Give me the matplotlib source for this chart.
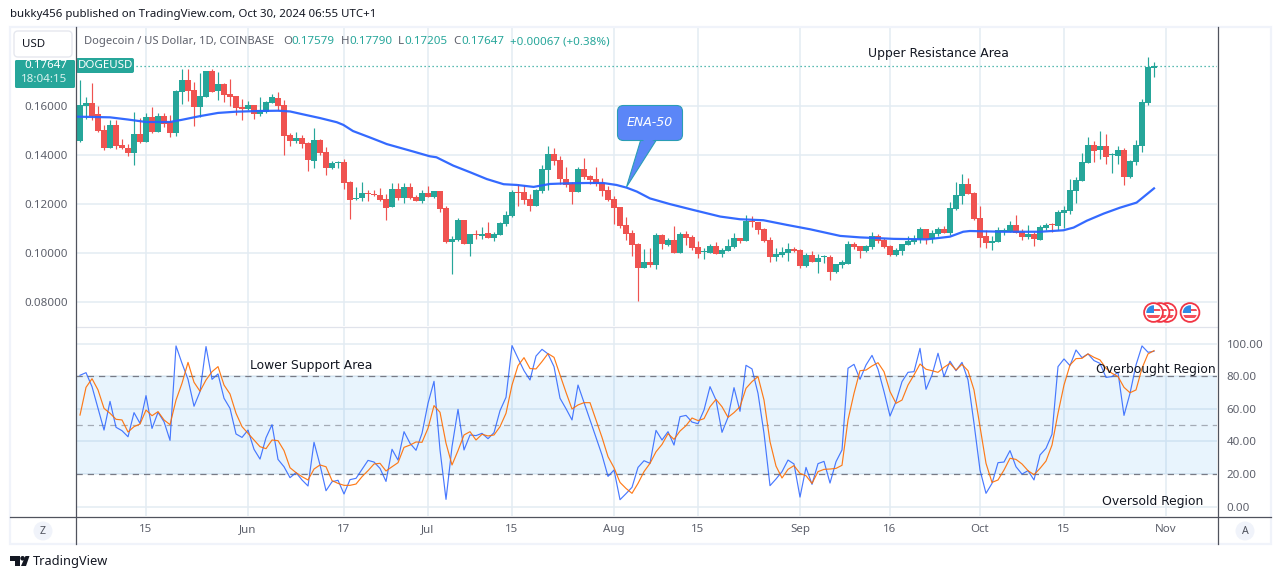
import numpy as np
import pandas as pd
import matplotlib
matplotlib.use('Agg')
import matplotlib.pyplot as plt
from matplotlib.patches import Circle, FancyBboxPatch, Polygon, Rectangle

# Candles, daily, in thousandths of a dollar
start_date = '2024-05-04'
opens = [145.8,160.1,161.4,156.9,150.3,143,152.4,144.2,143,141,
         148.7,145.4,155.6,149.5,156,153.6,149.1,165.9,170.7,166.7,
         159.7,163.8,174.4,166.3,169.1,165,164.2,159.7,158.9,160.5,
         156.9,157.7,161.4,163.4,160.5,148.3,145.9,147.1,145,137.7,
         146.3,141.4,134.8,136.9,137.3,129.1,122.2,122.6,124.6,124.2,
         123.8,122.2,118.9,126.3,122.6,127.1,123,121.4,124.6,123,
         125.4,118.5,104.6,105.4,113.6,103.8,107.5,107.1,108.3,106.3,
         107.5,112,115.2,125,125,122.2,119.3,125.4,134,140.5,
         138.1,130.3,128.3,125,134.4,131.6,130.3,128.7,125.9,122.2,
         118.9,111.6,108.3,103.8,94,96.5,95.2,107.5,103.4,105.4,
         100.1,107.9,106.7,102.6,100.5,100.1,103,99.7,101,102.6,
         106.3,105,113.2,112.8,109.9,105.4,98.5,99.3,100.1,101.8,
         101.4,94.8,99.3,96.5,98.4,98.5,92.4,95.2,95.6,103.8,
         103,101,102.6,107.1,105.4,103,99.3,101,103.4,104.6,
         105.9,109.9,105.9,107.9,109.9,108.3,118.1,123.4,128.3,124.6,
         114.4,107.1,104.4,104.6,108.7,108.7,111.6,108.8,106.7,107.9,
         105.4,110.3,111.8,111.2,116.5,117.3,125.4,129.5,136.9,144.2,
         142.2,143.8,140.1,139.7,142.2,131.2,137.3,143.8,161.4,175.79]
highs = [170.7,163.9,169.7,160.1,152.4,154.4,154.4,146.7,144.6,157.7,
         155.2,157.3,159.7,157.3,157.3,156.5,166.7,175.2,175.2,169.9,
         173.6,174.4,175.2,174,169.5,171.2,164.2,163,162.2,160.5,
         163.8,162.2,165,165.9,162.6,149.1,149.5,148.3,145.4,151.2,
         146.7,143.4,137.7,137.7,138.5,129.5,127.1,129.1,125.9,125.9,
         126.7,124.2,128.7,128.7,128.7,128.7,123.8,125.9,127.5,125.4,
         125.4,119.3,107.1,114.4,113.6,107.9,109.4,110.7,112.8,108.7,
         112.8,117.3,125.9,128.3,127.9,124.2,126.3,136.1,143.8,143,
         139.7,135.2,129.1,135.2,138.9,132,135.2,130.7,127.5,123.4,
         118.9,114.8,109.5,104.2,101.8,102.2,108.3,107.9,106.3,111.2,
         108.7,109.1,107.5,105,102.2,103.8,104.6,102.2,105.9,108.3,
         106.3,115.6,115.2,112.8,110.3,106.7,102.2,102.6,104.2,102.6,
         101.8,100.1,101,99.7,99.3,99.3,95.6,97.3,105,104.6,
         103,103.4,108.7,107.9,106.3,103.4,102.2,103.8,107.1,107.5,
         110.7,109.9,109.5,110.7,111.2,121,129.1,132.4,130.7,125,
         119.3,109.5,107.1,110.7,110.3,113.2,115.6,109.9,111.6,108.7,
         111.6,112.4,112.4,117.7,119.3,130.3,131.2,141,147.5,145.9,
         149.9,148.7,141,143.8,143,138.1,146.3,163,180.1,177.9]
lows = [145.5,154.7,154.4,149.5,142.2,143,142.6,142.6,139.7,136.1,
        145,145.4,149.1,149.5,151.6,147.5,147.9,161,162.2,152,
        155.6,163.8,165.9,162.6,161.8,160.1,156.5,154.4,158.5,154.8,
        156,157.3,161.4,158.5,140.1,143.8,145,143,133.6,134.8,
        140.1,132,134.4,134.8,126.3,114,121.8,121.4,121.4,123.4,
        121.4,113.6,118.9,121.8,120.5,122.2,121.4,120.5,123,122.6,
        116.9,104.2,91.6,105,103.8,98.9,105.9,105.9,106.3,105,
        107.5,111.2,114.8,119.3,120.1,117.3,119.3,124.6,125.9,136.1,
        128.3,127.1,120.1,125,130.3,128.3,127.5,123.4,121.4,112,
        110.3,105.4,98.9,80.5,94,94.4,93.6,101.8,103,100.1,
        100.1,103.4,101.4,98.1,97.7,100.1,99.7,98.5,101,102.2,
        104.2,105,110.7,107.9,104.6,96.5,96.9,98.5,96.9,100.5,
        94,94.4,96.5,92,96.1,89.1,92,94,95.6,101.8,
        98.1,100.5,101.8,104.2,102.2,98.9,98.9,99.3,103.4,103.8,
        104.2,103.8,104.2,107.1,108.3,107.5,117.7,120.1,124.2,113.6,
        102.6,102.2,101.4,104.6,107.5,108.7,108.3,105.4,105.9,103,
        105.4,109.5,108.7,109.5,110.3,116.1,120.5,129.5,136.9,137.3,
        138.5,136.5,132.8,136.5,127.9,130.7,136.1,141.4,160.5,172.05]
closes = [160.5,161.4,156.2,149.9,143,152.4,143.8,143,141,148.7,
          145.4,155.6,149.5,156,152.8,149.1,166.3,170.7,166.3,159.7,
          164.2,174.4,165.9,169.1,164.6,163.8,159.3,158.9,160.5,156.9,
          158.5,161.8,163.8,160.1,147.9,145.9,147.1,144.6,138.1,146.3,
          141,134.8,136.9,137.3,128.7,121.8,122.6,124.6,124.2,123.8,
          121.8,118.5,126.3,122.6,127.1,122.6,121.4,124.6,123,125.4,
          118.1,104.6,105.9,113.6,103.8,107.9,107.4,107.9,106.3,107.9,
          112.4,115.6,125,124.8,121.8,119.3,125.9,134.4,140.5,137.7,
          130.3,127.9,125,134.4,131.2,129.9,128.3,125.4,121.8,118.5,
          111.2,107.9,103.4,94,96.5,95.2,107.5,103.8,105.4,100.1,
          107.9,106.3,102.2,99.7,100.6,103,99.7,101.4,103,106.3,
          105,113.2,112.8,109.5,105,98.5,99.7,100.5,101.8,101,
          94.8,99.3,96.5,98.1,98.5,92.4,95.6,96.5,103.8,102.6,
          101,103,107.1,105,102.6,99.3,101.4,103.8,105,105.9,
          109.9,105.9,108.3,109.9,108.3,118.5,123.8,128.3,124.2,114,
          106.3,104.2,105,109.5,109.5,111.6,108.3,106.8,107.9,105.9,
          110.7,111.6,111.6,116.9,117.7,125.9,129.9,137.3,144.2,141.8,
          143.8,139.3,140.3,142.2,131.2,137.7,144.2,161.8,176.1,176.47]

# EMA-50, read at the bends of the line (day number, thousandths)
ema_days = [-1,5,8,11,15,17,20,23,26,30,33,35,37.2,40,42.8,43.9,45.5,48.3,50.5,51.1,55.6,58.3,59.4,62.2,65,67.8,70.6,72.8,75.6,
            78.3,81.7,84.4,87.2,89.4,91.1,92.8,95,98.3,102.2,106.7,110,113.9,117.8,121.7,126.7,130,
            135.6,141.1,143.3,145,147.2,148.3,153.9,160,163.9,165.6,167.8,170.6,173.3,176.1,177.2,179]
ema_vals = [155.8,155.5,154.6,153.6,153.6,154.5,156,157.3,157.8,158.1,158.2,157.9,156.7,155.2,153.5,152.4,149.9,147.3,145.2,144.6,141.5,139.6,139.2,135.8,133.1,130.3,128.2,127.9,127.1,
            128.3,128.6,128.7,128.7,127.9,126.8,125.2,122.4,120.1,117.7,115,113.9,113.5,111.6,109.8,107.1,106.5,
            105.9,105.7,106.3,106.8,108.8,109.1,108.8,108.8,109.4,110.5,113.3,116.2,118.6,120.7,122.9,126.5]

# Stochastic RSI, one value per day
stoch_k = [80.6,82.2,73.6,60.3,47,64.6,48.7,46.6,42.9,57.7,
           51.1,68.1,48,57.9,52.1,40.7,98.6,87.9,78.1,61.6,
           70.6,98.2,78.1,81.4,66.5,60.3,44.6,42.5,47,35.2,
           29.2,42.3,50.3,29,24.5,17.8,20.9,16.4,12.7,39.5,
           25.6,9.8,15.3,16.2,7.8,16.6,17.4,22.9,28.4,27.4,
           23.5,15.5,35.2,28.6,46,38.9,34.6,45,63.4,76.9,
           34.8,4.5,36.8,59.7,34.8,44,43.6,45,41.7,45.4,
           58.9,67.1,98.8,91,83.4,77.7,92.4,96.5,93.7,85.9,
           66.5,60.1,53.2,74.6,63.8,53.2,42.5,31.7,18.6,22.5,
           4.3,8,11.9,24.1,28.2,26.6,46.8,40.9,46,37.8,
           55.2,56,51.9,50.9,59.3,73.6,65.4,45.6,54.8,73,
           58.5,86.7,84.5,69.5,45,12.9,17,21.5,28.6,26.2,
           5.9,24.1,13.7,26.4,27.8,14.5,27.6,34.8,84.9,87.3,
           78.1,86.9,92.8,84.3,70.6,55.6,64.4,76.7,82.4,82.8,
           97.1,72,80.8,94.1,79.8,89.2,83.4,88.5,77.7,51.1,
           22.5,8.2,14.3,27,27.4,34.4,24.5,20,22.1,16.4,
           31.7,35.8,44.4,85.9,90.6,86.5,96.1,91.4,93.7,89.6,
           87.9,79.3,79.8,82.4,56,69.5,86.9,98.6,94.7,95.3]
stoch_d = [56.2,73.2,78.5,71.6,60.3,57.3,53.6,53.2,45.8,49.1,
           50.7,59.3,55.8,58.3,53.2,50.3,65.4,75.7,88.5,76.3,
           70.8,77.7,82.8,85.9,74.6,69.1,57.3,49.1,45,40.9,
           36.8,35.6,40.9,40.5,34.4,23.9,20.9,18.4,16.4,23.1,
           25.6,24.5,16,14.3,13.1,13.1,13.9,18.4,22.1,26.2,
           26.6,21.9,24.5,27,36.4,37.8,39.7,39.5,48.1,62,
           57.9,38.9,25.6,34.4,44,46,40.9,44.4,43.4,44,
           49.1,57.3,74.6,86.5,91.4,84.7,84.5,89,93.9,91.6,
           80.8,70.1,59.9,62.4,63.8,63.8,53.2,42.5,30.7,23.9,
           14.9,11.2,8.2,14.3,21.5,26.6,33.7,38.2,44.8,41.3,
           46.4,49.7,54.4,52.8,54,61.3,65.8,61.3,54.8,57.7,
           61.3,72.6,76.7,79.8,65.4,39.9,24.9,17.6,22.9,25.2,
           20.4,19,14.3,21.5,22.9,23.1,23.5,25.4,53.2,69.5,
           83.4,83.8,86.3,88.3,82.8,70.6,63.4,65.4,74.6,80.8,
           87.5,84.3,83.4,82.4,85.5,87.9,83.8,87.3,83.4,71.6,
           49.1,26.6,14.9,16.4,22.5,29.7,29,26.2,22.1,19.6,
           23.5,28,37.8,57.3,74.6,86.9,90.8,91,93.7,91.6,
           90,84.9,81.8,79.8,73.2,69.9,71.6,84.9,93.7,95.7]

# Axis ticks
price_ticks = [0.08, 0.10, 0.12, 0.14, 0.16]
stoch_ticks = [0, 20, 40, 60, 80, 100]
time_ticks = ['2024-05-15', '2024-06-01', '2024-06-17', '2024-07-01', '2024-07-15', '2024-08-01',
              '2024-08-15', '2024-09-01', '2024-09-16', '2024-10-01', '2024-10-15', '2024-11-01']
time_labels = ['15', 'Jun', '17', 'Jul', '15', 'Aug', '15', 'Sep', '16', 'Oct', '15', 'Nov']
last_price = 0.17647

UP = '#26a69a'
DOWN = '#ef5350'
GRID = '#e3ecf3'
DARK = '#50535e'
TEXT = '#131722'
LABEL = '#5d606b'
FONT = 'Noto Sans'
NOTE_FONT = 'DejaVu Sans'
W, H = 1281, 579

plt.rcParams['font.family'] = FONT


def px_rect(x0, y0, x1, y1):
    return [x0 / W, 1 - y1 / H, (x1 - x0) / W, (y1 - y0) / H]


fig = plt.figure(figsize=(W / 100, H / 100), dpi=100, facecolor='white')
ax = fig.add_axes(px_rect(76, 27, 1217, 326))
ax2 = fig.add_axes(px_rect(76, 327, 1217, 516))
deco = fig.add_axes([0, 0, 1, 1], zorder=10)
deco.set_xlim(0, W)
deco.set_ylim(H, 0)
deco.axis('off')
deco.patch.set_alpha(0)

df = pd.DataFrame({'open': opens, 'high': highs, 'low': lows, 'close': closes}) / 1000
df['day'] = np.arange(len(df))
tick_days = [(pd.Timestamp(d) - pd.Timestamp(start_date)).days for d in time_ticks]

# Price pane
for a in (ax, ax2):
    a.set_xlim(-0.67, 189.5)
    a.set_xticks(tick_days)
    a.grid(True, color=GRID, linewidth=1.1)
    a.set_axisbelow(True)
    for s in a.spines.values():
        s.set_visible(False)
    a.tick_params(length=0)

colors = np.where(df['close'] >= df['open'], UP, DOWN)
ax.vlines(df['day'], df['low'], df['high'], colors=colors, linewidth=0.85, zorder=3)
ax.bar(df['day'], (df['close'] - df['open']).abs().clip(lower=0.0003), bottom=df[['open', 'close']].min(axis=1),
       width=0.85, color=colors, linewidth=0, zorder=3)
ax.plot(ema_days, np.array(ema_vals) / 1000, color='#2962ff', linewidth=1.6, alpha=0.95, zorder=4)
ax.axhline(last_price, color=UP, linewidth=0.9, linestyle=(0, (1, 2.2)), zorder=2)
ax.set_ylim(0.07033, 0.19237)
ax.set_yticks(price_ticks)
ax.set_yticklabels(['%.5f' % p for p in price_ticks], color=LABEL, fontsize=8.3)
ax.tick_params(axis='y', pad=6)
ax.tick_params(axis='x', labelbottom=False)

# Stochastic pane
ax2.axhspan(20, 80, color='#2196f3', alpha=0.1, linewidth=0, zorder=1)
ax2.axhline(80, color='#787b86', linewidth=0.9, linestyle=(0, (5, 4)), zorder=2)
ax2.axhline(20, color='#787b86', linewidth=0.9, linestyle=(0, (5, 4)), zorder=2)
ax2.axhline(50, color='#787b86', alpha=0.6, linewidth=0.9, linestyle=(0, (5, 4)), zorder=2)
ax2.plot(df['day'], stoch_k, color='#2962ff', linewidth=0.85, alpha=0.85, zorder=3)
ax2.plot(df['day'], stoch_d, color='#ff6d00', linewidth=0.85, alpha=0.9, zorder=4)
ax2.set_ylim(-5.7, 110.2)
ax2.set_yticks(stoch_ticks)
ax2.set_yticklabels(['%.2f' % v for v in stoch_ticks], color=LABEL, fontsize=8.3)
ax2.yaxis.tick_right()
ax2.tick_params(axis='y', pad=7)
ax2.set_xticklabels(time_labels, color=LABEL, fontsize=8.3)
ax2.tick_params(axis='x', pad=6)

# Frame around the chart
deco.add_patch(Rectangle((10, 27), 1261, 517, fill=False, edgecolor='#f0f3fa', linewidth=1.6))
deco.plot([10, 1271], [516.5, 516.5], color=DARK, linewidth=0.9)
deco.plot([76, 1217], [326.5, 326.5], color='#e0e3eb', linewidth=0.9)
deco.plot([75.5, 75.5], [27, 544], color=DARK, linewidth=0.9)
deco.plot([1217.5, 1217.5], [27, 544], color=DARK, linewidth=0.9)

# Header
deco.text(10, 14.5, 'bukky456 published on TradingView.com, Oct 30, 2024 06:55 UTC+1', fontsize=8.25,
          color=TEXT, va='center')
deco.text(84, 41.5, 'Dogecoin / US Dollar, 1D, COINBASE', fontsize=8.05, color=LABEL, va='center')
for x, letter, value in [(283, 'O', '0.17579'), (341, 'H', '0.17790'), (398, 'L', '0.17205'), (453, 'C', '0.17647')]:
    deco.text(x, 41.5, letter, fontsize=8.3, color=LABEL, va='center')
    deco.text(x + (8.5 if letter != 'L' else 6.5), 41.5, value, fontsize=8.3, color=UP, va='center')
deco.text(510, 41.5, '+0.00067 (+0.38%)', fontsize=8.3, color=UP, va='center')

# USD button and last price tags
deco.add_patch(FancyBboxPatch((14, 31), 58, 26, boxstyle='round,pad=0,rounding_size=4', facecolor='white',
                              edgecolor='#e6e8ef', linewidth=1))
deco.text(33.5, 44.5, 'USD', fontsize=8.3, color=TEXT, ha='center', va='center')
deco.add_patch(FancyBboxPatch((15, 60), 60, 28, boxstyle='round,pad=0,rounding_size=1.5', facecolor=UP, edgecolor='none'))
deco.text(46, 66, '0.17647', fontsize=8.3, color='white', ha='center', va='center', fontweight='bold')
deco.text(44.5, 79.5, '18:04:15', fontsize=8.3, color='#d9f2ef', ha='center', va='center')
deco.add_patch(FancyBboxPatch((76, 58), 58, 15, boxstyle='round,pad=0,rounding_size=2', facecolor=UP, edgecolor='none'))
deco.text(105.5, 65.5, 'DOGEUSD', fontsize=8.3, color='white', ha='center', va='center')

# Drawn annotations
deco.text(868, 54, 'Upper Resistance Area', fontsize=8.9, family=NOTE_FONT, color=TEXT, va='center')
deco.text(250, 366, 'Lower Support Area', fontsize=8.9, family=NOTE_FONT, color=TEXT, va='center')
deco.text(1096, 369.5, 'Overbought Region', fontsize=8.9, family=NOTE_FONT, color=TEXT, va='center')
deco.text(1102, 502, 'Oversold Region', fontsize=8.9, family=NOTE_FONT, color=TEXT, va='center')

# ENA-50 callout
deco.add_patch(Polygon([(641, 139), (657, 139), (626.5, 187)], closed=True, facecolor='#5b86f7', edgecolor='#2a9db5',
                       linewidth=0.8, zorder=3))
deco.add_patch(FancyBboxPatch((617.5, 105.5), 65, 35, boxstyle='round,pad=0,rounding_size=6', facecolor='#5b86f7',
                              edgecolor='#2a9db5', linewidth=0.8, zorder=3))
deco.add_patch(Polygon([(642, 139), (656, 139), (650, 142), (645, 142)], closed=True, facecolor='#5b86f7',
                       edgecolor='none', zorder=4))
deco.text(650, 123, 'ENA-50', fontsize=9, family=NOTE_FONT, color='white', style='italic', ha='center', va='center', zorder=5)


# US flag event marks
def flag(cx, cy, z):
    clip = Circle((cx, cy), 7.2, transform=deco.transData)
    deco.add_patch(Circle((cx, cy), 9.4, facecolor='white', edgecolor='#f23645', linewidth=1.3, zorder=z))
    parts = [Rectangle((cx, cy - 4), 8, 2.6, facecolor='#f4505c', edgecolor='none', zorder=z + 0.1),
             Rectangle((cx - 8, cy + 2.2), 16, 3.2, facecolor='#f4505c', edgecolor='none', zorder=z + 0.1),
             Rectangle((cx - 8, cy - 8), 8.5, 8.5, facecolor='#2f8be6', edgecolor='none', zorder=z + 0.2)]
    for p in parts:
        deco.add_patch(p)
        p.set_clip_path(clip)


flag(1167, 312.5, 5)
flag(1160, 312.5, 6)
flag(1153.5, 312.5, 7)
flag(1190, 312.5, 5)

# Scale buttons
for cx, letter in [(43, 'Z'), (1245, 'A')]:
    deco.add_patch(Circle((cx, 531), 9.5, facecolor='#f0f3fa', edgecolor='none'))
    deco.text(cx, 531.5, letter, fontsize=7.6, color=DARK, ha='center', va='center')

# TradingView logo
deco.add_patch(Polygon([(10, 556), (20, 556), (20, 566), (15, 566), (15, 561), (10, 561)], closed=True, facecolor=TEXT))
deco.add_patch(Circle((22.6, 558.3), 2.3, facecolor=TEXT, edgecolor='none'))
deco.add_patch(Polygon([(25.5, 556), (29.5, 556), (26, 566), (21, 566)], closed=True, facecolor=TEXT))
deco.text(33, 561, 'TradingView', fontsize=9.2, color=TEXT, va='center')

fig.savefig('out.png', dpi=100)
